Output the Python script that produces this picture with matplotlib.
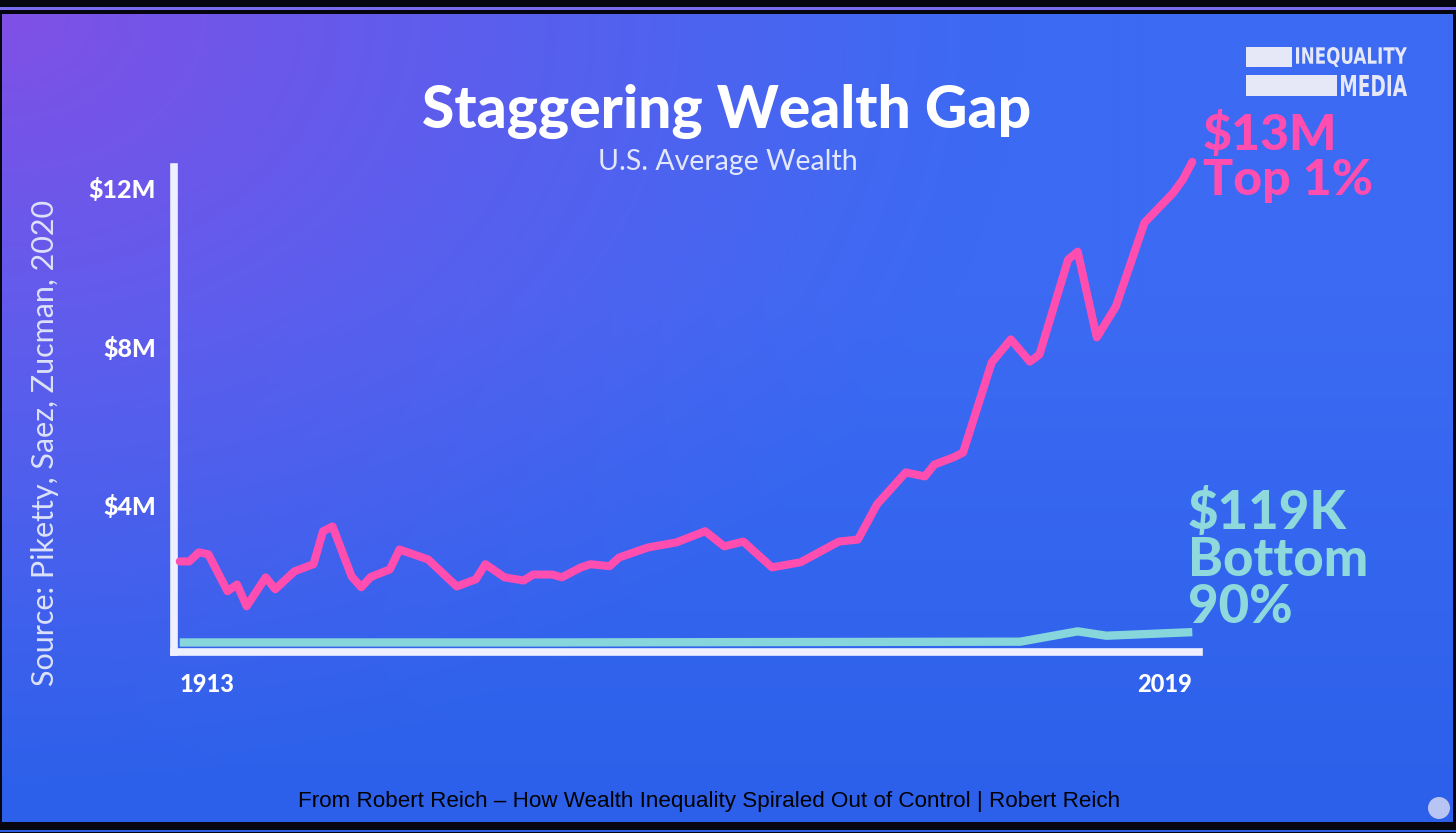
import matplotlib.pyplot as plt
import numpy as np
from matplotlib.patches import Rectangle, Ellipse, PathPatch
from matplotlib.textpath import TextPath
from matplotlib.font_manager import FontProperties
from matplotlib.transforms import Affine2D

W, H = 1456, 833

# top 1% average wealth, $M
top_years = [1913, 1914, 1915, 1916, 1918, 1919, 1920, 1922, 1923, 1925,
             1927, 1928, 1929, 1931, 1932, 1933, 1935, 1936, 1939, 1942,
             1944, 1945, 1947, 1949, 1950, 1952, 1953, 1955, 1956, 1958,
             1959, 1962, 1965, 1968, 1970, 1972, 1975, 1978, 1982, 1984,
             1986, 1989, 1991, 1992, 1994, 1995, 1998, 2000, 2002, 2003,
             2006, 2007, 2009, 2011, 2014, 2017, 2018, 2019]
top_vals = [2.59, 2.59, 2.82, 2.77, 1.84, 2.01, 1.46, 2.19, 1.89, 2.34,
            2.52, 3.35, 3.47, 2.21, 1.94, 2.20, 2.39, 2.89, 2.64, 1.96,
            2.14, 2.52, 2.19, 2.11, 2.26, 2.26, 2.19, 2.44, 2.52, 2.47,
            2.69, 2.94, 3.07, 3.35, 2.97, 3.09, 2.44, 2.57, 3.09, 3.14,
            4.03, 4.83, 4.73, 5.03, 5.21, 5.33, 7.60, 8.18, 7.62, 7.80,
            10.19, 10.39, 8.23, 9.01, 11.12, 11.87, 12.20, 12.65]

# bottom 90%
bot_years = [1913, 1950, 2001, 2007, 2010, 2019]
bot_vals = [0.55, 0.55, 0.57, 0.83, 0.72, 0.81]

y_ticks = [4, 8, 12]
y_labels = ["$4M", "$8M", "$12M"]
x_ticks = [1913, 2019]


def fx(px):
    return px / W


def fy(py):
    return 1 - py / H


fig = plt.figure(figsize=(W / 100, H / 100), dpi=100)
fig.patch.set_facecolor("#05060f")

# thin frame lines of the screenshot
fig.add_artist(Rectangle((0, fy(9.5)), 1, 2.5 / H, transform=fig.transFigure,
                         color="#7a6cf0", lw=0))
fig.add_artist(Rectangle((0, fy(832)), 1, 2 / H, transform=fig.transFigure,
                         color="#2f5fe0", lw=0))

# gradient panel
bg = fig.add_axes([fx(2), fy(822), fx(1453 - 2), (822 - 14) / H])
bg.set_axis_off()
nx, ny = 364, 202
xx, yy = np.meshgrid(np.linspace(0, 1452, nx), np.linspace(14, 822, ny))
d = np.sqrt((xx / 1.3) ** 2 + (yy - 14) ** 2)
t = np.clip(1 - d / 780, 0, 1) ** 1.2
purple = np.array([128, 80, 230]) / 255
blue = np.array([60, 106, 243]) / 255
deep = np.array([44, 96, 234]) / 255
v = np.clip((yy - 300) / 520, 0, 1)[..., None]
base = blue * (1 - v) + deep * v
img = base * (1 - t[..., None]) + purple * t[..., None]
bg.imshow(img, aspect="auto", extent=[0, 1, 0, 1], interpolation="bicubic")
bg.set_xlim(0, 1)
bg.set_ylim(0, 1)

# main chart
ax = fig.add_axes([fx(174), fy(652), fx(1199 - 174), (652 - 167) / H])
ax.set_facecolor("none")
ax.set_xlim(1912.4, 2019.7)
ax.set_ylim(0.31, 12.52)
for s in ["top", "right"]:
    ax.spines[s].set_visible(False)
for s in ["left", "bottom"]:
    ax.spines[s].set_color("#eef0ff")
    ax.spines[s].set_linewidth(5.5)
    ax.spines[s].set_capstyle("projecting")

ax.plot(bot_years, bot_vals, color="#86d6dc", lw=6, solid_capstyle="butt",
        clip_on=False, zorder=3)
ax.plot(top_years, top_vals, color="#ff4db0", lw=5.8, solid_joinstyle="round",
        solid_capstyle="round", clip_on=False, zorder=4)

ax.set_yticks(y_ticks)
ax.set_yticklabels(y_labels)
ax.set_xticks(x_ticks)
ax.set_xticklabels([str(x) for x in x_ticks])
ax.tick_params(length=0, colors="white", labelsize=18)
ax.tick_params(axis="y", pad=13)
ax.tick_params(axis="x", pad=15, labelsize=17)
for lab in ax.get_yticklabels() + ax.get_xticklabels():
    lab.set_family("Lato")
    lab.set_fontweight("black")
xl = ax.get_xticklabels()
xl[0].set_ha("left")
xl[1].set_ha("right")

# titles
fig.text(fx(727), fy(111), "Staggering Wealth Gap", color="white",
         fontsize=42.3, fontweight="black", family="Lato", ha="center", va="center")
fig.text(fx(728), fy(162), "U.S. Average Wealth", color="#e2e7fc",
         fontsize=20.5, fontweight="normal", family="Lato", ha="center", va="center")

fig.text(fx(45), fy(443), "Source: Piketty, Saez, Zucman, 2020", color="#dde2fa",
         fontsize=22, fontweight="normal", family="Lato", rotation=90,
         ha="center", va="center")

# end labels
fig.text(fx(1203), fy(157), "$13M\nTop 1%", color="#ff4db0", fontsize=36,
         fontweight="black", family="Lato", ha="left", va="center",
         linespacing=1.0)
fig.text(fx(1188), fy(560), "$119K\nBottom\n90%", color="#8fd9dc", fontsize=38,
         fontweight="black", family="Lato", ha="left", va="center",
         linespacing=0.95)

# overlay in pixel coordinates for the logo
ov = fig.add_axes([0, 0, 1, 1], zorder=10)
ov.set_xlim(0, W)
ov.set_ylim(H, 0)
ov.set_axis_off()
ov.patch.set_alpha(0)

logo = "#e6e8f8"
ov.add_patch(Rectangle((1246, 47), 46, 20, color=logo, lw=0))
ov.add_patch(Rectangle((1246, 75), 91, 21, color=logo, lw=0))


def squeezed(s, x0, x1, top, base):
    tp = TextPath((0, 0), s, size=10,
                  prop=FontProperties(family="DejaVu Sans", weight="bold"))
    ext = tp.get_extents()
    sx = (x1 - x0) / ext.width
    sy = (base - top) / ext.height
    tr = Affine2D().translate(-ext.x0, -ext.y0).scale(sx, -sy).translate(x0, base)
    ov.add_patch(PathPatch(tr.transform_path(tp), color=logo, lw=0))


squeezed("INEQUALITY", 1296, 1407, 47, 67)
squeezed("MEDIA", 1341, 1407, 75, 96)

# caption
fig.text(fx(709), fy(801), "From Robert Reich \u2013 How Wealth Inequality Spiraled Out of Control | Robert Reich",
         color="black", fontsize=16.1, family="Liberation Sans",
         ha="center", va="center")

ov.add_patch(Ellipse((1439, 808), 22, 22, color="#b8c4f4", lw=0))

fig.savefig("out.png", dpi=100, facecolor=fig.get_facecolor())
